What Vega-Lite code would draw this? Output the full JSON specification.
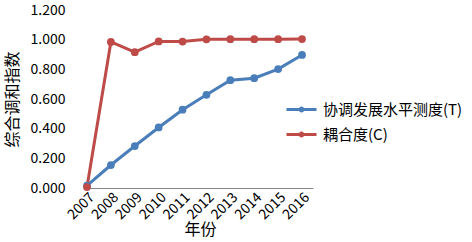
{
  "$schema": "https://vega.github.io/schema/vega-lite/v6.json",
  "width": 226,
  "height": 178,
  "autosize": {"type": "none"},
  "padding": {"left": 87, "top": 10, "right": 159, "bottom": 54},
  "background": "white",
  "config": {
    "view": {"stroke": null},
    "font": "Noto Sans CJK SC"
  },
  "data": {
    "values": [
      {"year": 2007, "series": "协调发展水平测度(T)", "value": 0.016},
      {"year": 2008, "series": "协调发展水平测度(T)", "value": 0.155},
      {"year": 2009, "series": "协调发展水平测度(T)", "value": 0.283},
      {"year": 2010, "series": "协调发展水平测度(T)", "value": 0.408},
      {"year": 2011, "series": "协调发展水平测度(T)", "value": 0.528},
      {"year": 2012, "series": "协调发展水平测度(T)", "value": 0.628},
      {"year": 2013, "series": "协调发展水平测度(T)", "value": 0.727},
      {"year": 2014, "series": "协调发展水平测度(T)", "value": 0.740},
      {"year": 2015, "series": "协调发展水平测度(T)", "value": 0.802},
      {"year": 2016, "series": "协调发展水平测度(T)", "value": 0.897},
      {"year": 2007, "series": "耦合度(C)", "value": 0.006},
      {"year": 2008, "series": "耦合度(C)", "value": 0.985},
      {"year": 2009, "series": "耦合度(C)", "value": 0.916},
      {"year": 2010, "series": "耦合度(C)", "value": 0.988},
      {"year": 2011, "series": "耦合度(C)", "value": 0.987},
      {"year": 2012, "series": "耦合度(C)", "value": 1.002},
      {"year": 2013, "series": "耦合度(C)", "value": 1.003},
      {"year": 2014, "series": "耦合度(C)", "value": 1.003},
      {"year": 2015, "series": "耦合度(C)", "value": 1.003},
      {"year": 2016, "series": "耦合度(C)", "value": 1.004}
    ]
  },
  "encoding": {
    "x": {
      "field": "year",
      "type": "quantitative",
      "scale": {"domain": [2007, 2016.46], "nice": false, "zero": false},
      "axis": {
        "title": "年份",
        "values": [2007, 2008, 2009, 2010, 2011, 2012, 2013, 2014, 2015, 2016],
        "format": "d",
        "labelAngle": -45,
        "labelOverlap": false,
        "labelFontSize": 14,
        "labelColor": "#000000",
        "labelPadding": 2,
        "ticks": false,
        "grid": false,
        "domainColor": "#868686",
        "domainWidth": 1,
        "titleFontSize": 16,
        "titleFontWeight": "normal",
        "titleColor": "#000000",
        "titlePadding": 0
      }
    },
    "y": {
      "field": "value",
      "type": "quantitative",
      "scale": {"domain": [0, 1.2], "nice": false},
      "axis": {
        "title": "综合调和指数",
        "values": [0, 0.2, 0.4, 0.6, 0.8, 1.0, 1.2],
        "format": ".3f",
        "labelFontSize": 14,
        "labelColor": "#000000",
        "labelPadding": 22,
        "ticks": false,
        "grid": false,
        "domain": false,
        "titleFontSize": 16,
        "titleFontWeight": "normal",
        "titleColor": "#000000",
        "titlePadding": 10
      }
    },
    "color": {
      "field": "series",
      "type": "nominal",
      "scale": {
        "domain": ["协调发展水平测度(T)", "耦合度(C)"],
        "range": ["#4A7EBB", "#BE4B48"]
      },
      "legend": {
        "title": null,
        "orient": "none",
        "legendX": 198,
        "legendY": 83,
        "padding": 0,
        "labelFontSize": 15,
        "labelColor": "#000000",
        "labelOffset": 5,
        "rowPadding": -2,
        "symbolType": "M-1,0H1M0.1,0A0.1,0.1 0 1,1 -0.1,0A0.1,0.1 0 1,1 0.1,0Z",
        "symbolSize": 900,
        "symbolStrokeWidth": 3
      }
    }
  },
  "layer": [
    {"mark": {"type": "line", "strokeWidth": 3}},
    {"mark": {"type": "point", "filled": true, "size": 60, "opacity": 1}}
  ]
}
